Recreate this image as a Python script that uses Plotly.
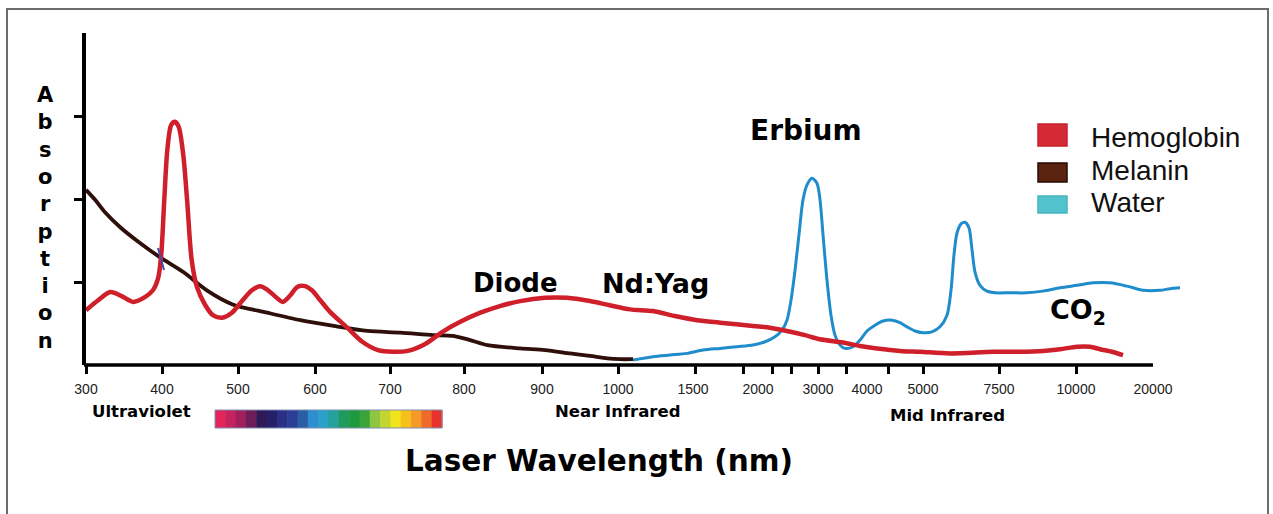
import numpy as np
import plotly.graph_objects as go

# ---------------- data ----------------
tick_labels = ["300", "400", "500", "600", "700", "800", "900", "1000", "1500",
               "2000", "3000", "4000", "5000", "7500", "10000", "20000"]
tick_wavelengths = [300, 400, 500, 600, 700, 800, 900, 1000, 1500,
                    2000, 3000, 4000, 5000, 7500, 10000, 20000]

hemoglobin_wl = [300, 316, 332, 347, 362, 378, 388, 395, 399, 403, 407, 412, 417, 422,
                 428, 433, 439, 446, 457, 467, 479, 492, 506, 518, 529, 539, 549, 558,
                 568, 577, 587, 596, 607, 620, 643, 663, 684, 704, 724, 747, 771, 795,
                 821, 846, 872, 904, 933, 963, 989, 1080, 1233, 1380, 1531, 1708, 1962,
                 2200, 2483, 2783, 3041, 3510, 3857, 4179, 4589, 4946, 5888, 7303, 8182,
                 8929, 9481, 10130, 11818, 13117, 14675, 16104]
hemoglobin_abs = [0.66, 0.78, 0.88, 0.83, 0.76, 0.82, 0.90, 1.05, 1.33, 1.99, 2.59, 2.89,
                  2.93, 2.87, 2.53, 1.99, 1.27, 0.94, 0.72, 0.60, 0.57, 0.63, 0.78, 0.90,
                  0.95, 0.90, 0.82, 0.76, 0.84, 0.94, 0.95, 0.90, 0.78, 0.64, 0.45, 0.28,
                  0.18, 0.16, 0.17, 0.25, 0.40, 0.52, 0.63, 0.71, 0.77, 0.81, 0.81, 0.77,
                  0.72, 0.67, 0.65, 0.59, 0.54, 0.51, 0.47, 0.45, 0.41, 0.36, 0.31, 0.27,
                  0.23, 0.20, 0.17, 0.16, 0.14, 0.16, 0.16, 0.17, 0.19, 0.22, 0.22, 0.19,
                  0.16, 0.12]

melanin_wl = [300, 312, 325, 345, 371, 397, 428, 459, 493, 538, 581, 625, 670, 714, 758,
              785, 808, 830, 872, 904, 937, 963, 986, 1013, 1100]
melanin_abs = [2.11, 1.99, 1.84, 1.66, 1.47, 1.30, 1.12, 0.90, 0.73, 0.63, 0.54, 0.47,
               0.41, 0.39, 0.36, 0.35, 0.30, 0.24, 0.20, 0.18, 0.14, 0.11, 0.08, 0.07, 0.07]

water_wl = [1100, 1233, 1347, 1460, 1577, 1708, 1838, 1962, 2117, 2283, 2400, 2483, 2550,
            2617, 2683, 2750, 2817, 2900, 2983, 3041, 3102, 3184, 3265, 3347, 3449, 3551,
            3714, 3857, 4000, 4143, 4286, 4446, 4589, 4714, 4857, 5000, 5296, 5559, 5789,
            5921, 6020, 6118, 6250, 6382, 6513, 6612, 6711, 6875, 7105, 7368, 7857, 8409,
            8929, 9481, 10130, 12208, 14416, 16623, 18701, 20909, 22208, 23506]
water_abs = [0.06, 0.10, 0.12, 0.14, 0.18, 0.20, 0.22, 0.24, 0.28, 0.34, 0.42, 0.54, 0.78,
             1.14, 1.57, 1.99, 2.17, 2.25, 2.19, 1.99, 1.57, 1.02, 0.60, 0.36, 0.24, 0.20,
             0.22, 0.30, 0.41, 0.48, 0.53, 0.54, 0.51, 0.46, 0.41, 0.39, 0.40, 0.46, 0.60,
             0.90, 1.33, 1.59, 1.70, 1.72, 1.65, 1.39, 1.12, 0.96, 0.89, 0.87, 0.87, 0.87,
             0.89, 0.93, 0.96, 0.99, 0.99, 0.95, 0.90, 0.90, 0.92, 0.93]

legend_names = ["Hemoglobin", "Melanin", "Water"]
spectrum_colors = ["#e2245a", "#c4235e", "#a0205e", "#6e1d58", "#2f1a55", "#262068",
                   "#2b2f86", "#2c3d95", "#2b5fa4", "#2e8fd0", "#2ba0c9", "#23a39a",
                   "#1f9c5c", "#1e9a3e", "#3aa43b", "#8ec63f", "#c5d52f", "#f1e31c",
                   "#f7c01b", "#f59a26", "#ef6a2b", "#e8322b"]

# ---------------- layout helpers (broken, hand-drawn wavelength axis) ----------------
FONT = "Liberation Sans, Arial, sans-serif"
WIDE = "DejaVu Sans, Liberation Sans, sans-serif"
W, H = 1273, 514
L, R, T, B = 86, 1190, 33, 365          # plot area in pixels
label_pos = [0, 76, 152, 229, 304, 378, 456, 532, 607, 672, 732, 781, 837, 913, 990, 1067]
mark_pos = [0, 76, 152, 229, 304, 378, 456, 532, 609, 657, 686, 705, 732, 760, 802, 837, 913, 990]


def wl_to_pos(wl):
    wl = np.asarray(wl, dtype=float)
    pos = np.interp(wl, tick_wavelengths, label_pos)
    slope = (label_pos[-1] - label_pos[-2]) / (tick_wavelengths[-1] - tick_wavelengths[-2])
    over = wl > tick_wavelengths[-1]
    pos[over] = label_pos[-1] + (wl[over] - tick_wavelengths[-1]) * slope
    return pos


def pxx(x):
    return (x - L) / (R - L)


def pxy(y):
    return (B - y) / (B - T)


RED, BROWN, BLUE = "#cf1f2b", "#2e0f0a", "#1f8ccb"

fig = go.Figure()
fig.add_trace(go.Scatter(x=wl_to_pos(melanin_wl), y=melanin_abs, mode="lines",
                         line=dict(color=BROWN, width=3.8, shape="spline", smoothing=0.8),
                         name=legend_names[1], showlegend=False, hoverinfo="skip"))
fig.add_trace(go.Scatter(x=wl_to_pos(water_wl), y=water_abs, mode="lines",
                         line=dict(color=BLUE, width=3, shape="spline", smoothing=0.8),
                         name=legend_names[2], showlegend=False, hoverinfo="skip"))
fig.add_trace(go.Scatter(x=wl_to_pos(hemoglobin_wl), y=hemoglobin_abs, mode="lines",
                         line=dict(color=RED, width=4.5, shape="spline", smoothing=0.8),
                         name=legend_names[0], showlegend=False, hoverinfo="skip"))
# dummy trace to register the overlay axis carrying the tick marks
fig.add_trace(go.Scatter(x=[0], y=[0], xaxis="x2", mode="markers",
                         marker=dict(opacity=0), showlegend=False, hoverinfo="skip"))

xrange = [0, R - L]
fig.update_layout(
    width=W, height=H, autosize=False,
    margin=dict(l=L, r=W - R, t=T, b=H - B, pad=0),
    paper_bgcolor="white", plot_bgcolor="white",
    showlegend=False,
    xaxis=dict(range=xrange, tickmode="array", tickvals=label_pos, ticktext=tick_labels,
               ticks="outside", ticklen=11, tickcolor="rgba(0,0,0,0)",
               showline=False, showgrid=False, zeroline=False,
               tickfont=dict(family=FONT, size=14, color="#222222")),
    xaxis2=dict(range=xrange, overlaying="x", anchor="y", side="bottom",
                tickmode="array", tickvals=mark_pos, ticks="outside", ticklen=8,
                tickwidth=3, tickcolor="black", showticklabels=False,
                showline=False, showgrid=False, zeroline=False),
    yaxis=dict(range=[0, 4], tickmode="array", tickvals=[1, 2, 3], ticks="outside",
               ticklen=8, tickwidth=2.5, tickcolor="black", showticklabels=False,
               showline=True, linewidth=3.5, linecolor="black",
               showgrid=False, zeroline=False),
)

shapes = []
# outer frame
shapes.append(dict(type="rect", xref="paper", yref="paper", x0=pxx(7), x1=pxx(1268),
                   y0=pxy(540), y1=pxy(9), line=dict(color="#6b6b6b", width=2),
                   fillcolor="rgba(0,0,0,0)", layer="below"))
# x axis line
shapes.append(dict(type="line", xref="paper", yref="paper", x0=pxx(84), x1=pxx(1153),
                   y0=0, y1=0, line=dict(color="black", width=3.5)))
# small blue mark on melanin curve
shapes.append(dict(type="line", xref="paper", yref="paper", x0=pxx(158), x1=pxx(164),
                   y0=pxy(248), y1=pxy(270), line=dict(color="#4a4aa8", width=2)))
# spectrum bar
sx0, sx1, sy0, sy1 = 215, 442, 410, 428
n = len(spectrum_colors)
for i, c in enumerate(spectrum_colors):
    a = sx0 + (sx1 - sx0) * i / n
    b = sx0 + (sx1 - sx0) * (i + 1) / n
    shapes.append(dict(type="rect", xref="paper", yref="paper", x0=pxx(a), x1=pxx(b) + 0.0005,
                       y0=pxy(sy1), y1=pxy(sy0), line=dict(width=0), fillcolor=c))
shapes.append(dict(type="rect", xref="paper", yref="paper", x0=pxx(sx0), x1=pxx(sx1),
                   y0=pxy(sy1), y1=pxy(sy0), line=dict(color="#7f8fb0", width=1)))
# legend swatches
swatches = [("#d42a35", "#c8202c", 124, 146), ("#5a2410", "#2a0a05", 163, 182),
            ("#52c2cc", "#45b5c0", 196, 213)]
for fill, edge, y0, y1 in swatches:
    shapes.append(dict(type="rect", xref="paper", yref="paper", x0=pxx(1038), x1=pxx(1067),
                       y0=pxy(y1), y1=pxy(y0), line=dict(color=edge, width=1.5), fillcolor=fill))
fig.update_layout(shapes=shapes)

ann = []


def text(x, y, s, size, bold=True, xanchor="center", color="black", family=WIDE):
    ann.append(dict(x=pxx(x), y=pxy(y), xref="paper", yref="paper", text=(f"<b>{s}</b>" if bold else s),
                    showarrow=False, xanchor=xanchor, yanchor="middle",
                    font=dict(family=family, size=size, color=color)))


text(45, 218, "<br>".join("Absorption"), 21)
text(806, 130, "Erbium", 28)
text(515, 283, "Diode", 26)
text(655, 283, "Nd:Yag", 27)
text(1078, 311, "CO<sub>2</sub>", 27)
text(141, 411, "Ultraviolet", 16.5)
text(618, 411, "Near Infrared", 16.5)
text(947, 415, "Mid Infrared", 16.5)
text(599, 461, "Laser Wavelength (nm)", 29.5)
for name, yc in zip(legend_names, [137, 170, 203]):
    text(1089, yc, name, 28, bold=False, xanchor="left", color="#111111", family=FONT)
fig.update_layout(annotations=ann)

fig.write_html("out.html")
